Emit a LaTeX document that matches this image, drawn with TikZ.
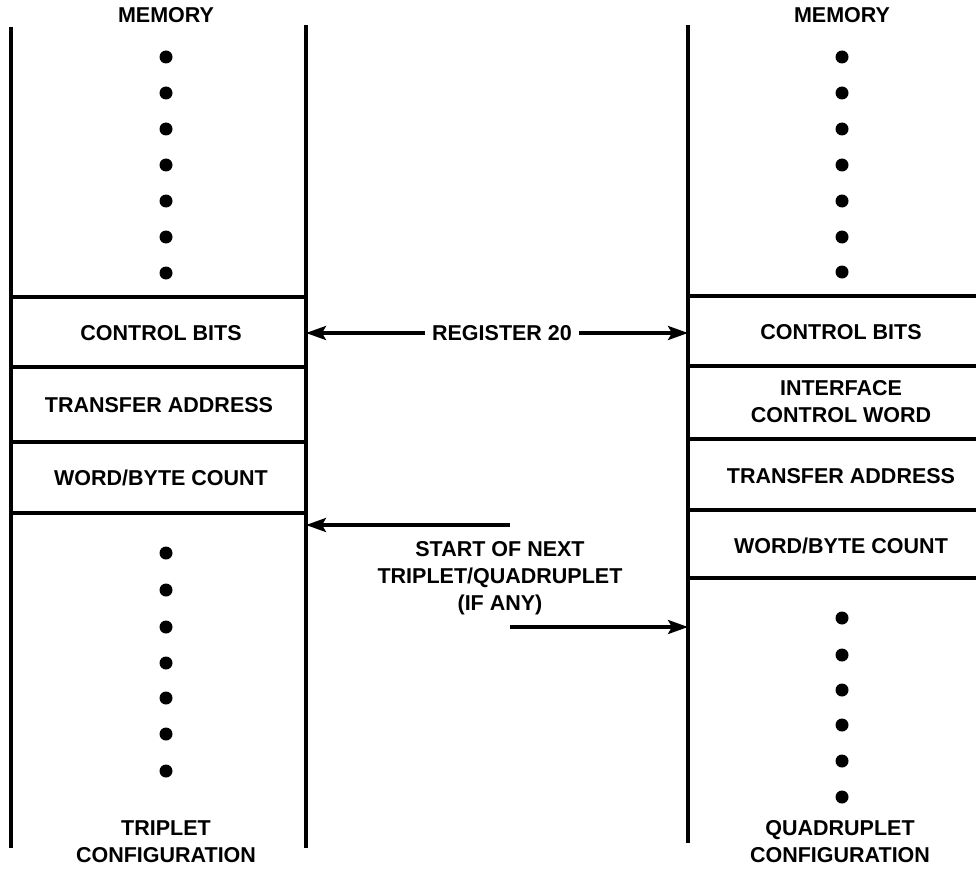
\documentclass[tikz,border=0pt]{standalone}
\usepackage{fontspec}
\setmainfont{Liberation Sans}
\usetikzlibrary{arrows.meta}
\begin{document}
\begin{tikzpicture}[x=1pt,y=-1pt,
  rule/.style={line width=3.4pt},
  lbl/.style={font=\fontsize{21.5}{27}\selectfont\bfseries, inner sep=1pt, align=center},
  dotmark/.style={fill=black},
  arr/.style={line width=3.2pt,-{Stealth[length=20pt,width=14pt,inset=4pt]}}]
\useasboundingbox (0,0) rectangle (976,869);
% left column
\draw[rule] (11,27) -- (11,848);
\draw[rule] (306,25) -- (306,848);
\foreach \y in {297,367,442,513} \draw[rule] (11,\y) -- (306,\y);
% right column
\draw[rule] (688,25) -- (688,843);
\foreach \y in {296,366,439,510,578} \draw[rule] (688,\y) -- (976,\y);
% dots
\foreach \y in {57,93,129,165,201,237,273,553,590,627,663,698,734,771}
  \fill[dotmark] (166,\y) circle (6.5);
\foreach \y in {57,93,129,165,201,237,272,618,655,690,725,761,797}
  \fill[dotmark] (842,\y) circle (6.5);
% labels left
\node[lbl] (memL) at (166,15) {MEMORY};
\node[lbl] (cbL) at (161,333) {CONTROL BITS};
\node[lbl] (taL) at (159,405) {TRANSFER ADDRESS};
\node[lbl] (wbL) at (161,478) {WORD/BYTE COUNT};
\node[lbl] (trip) at (166,842) {TRIPLET\\CONFIGURATION};
% labels right
\node[lbl] (memR) at (842,15) {MEMORY};
\node[lbl] (cbR) at (841,332) {CONTROL BITS};
\node[lbl] (icw) at (841,402) {INTERFACE\\CONTROL WORD};
\node[lbl] (taR) at (841,476) {TRANSFER ADDRESS};
\node[lbl] (wbR) at (841,546) {WORD/BYTE COUNT};
\node[lbl] (quad) at (840,842) {QUADRUPLET\\CONFIGURATION};
% middle
\node[lbl, inner sep=7pt] (reg) at (502,333) {REGISTER 20};
\coordinate (regL) at (306,333);
\coordinate (regR) at (688,333);
\draw[arr] (reg.west) -- (regL);
\draw[arr] (reg.east) -- (regR);
\node[lbl] (next) at (500,578) {START OF NEXT\\TRIPLET/QUADRUPLET\\(IF ANY)};
\coordinate (n1s) at (510,525);
\coordinate (n1e) at (306,525);
\coordinate (n2s) at (510,627);
\coordinate (n2e) at (688,627);
\draw[arr] (n1s) -- (n1e);
\draw[arr] (n2s) -- (n2e);
\end{tikzpicture}
\end{document}
